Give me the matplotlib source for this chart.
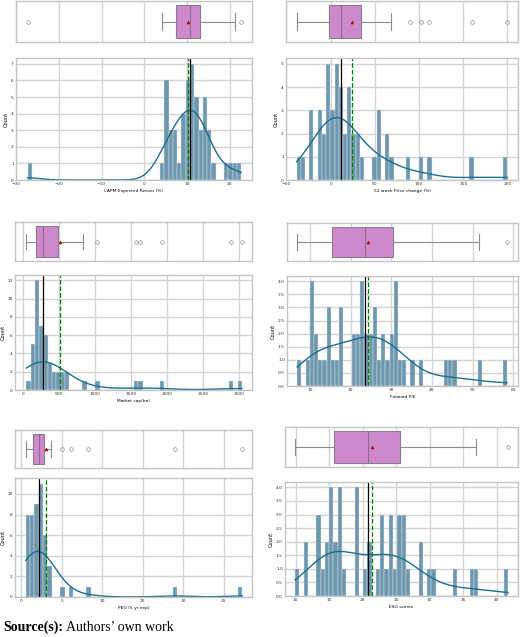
import numpy as np
import matplotlib
matplotlib.use("Agg")
import matplotlib.pyplot as plt
from matplotlib.ticker import MultipleLocator
import seaborn as sns

capm_return = [
    -27.3,
    4.2,
    5.0, 5.1, 5.2, 5.3, 5.4, 5.5,
    6.0, 6.2, 6.4,
    7.0, 7.2, 7.4,
    8.2,
    8.9, 9.1, 9.3, 9.5,
    9.75, 9.8, 9.9, 10.0, 10.1, 10.3,
    10.72, 10.8, 10.9, 11.0, 11.1, 11.2, 11.4,
    11.75, 11.8, 11.9, 12.0, 12.2,
    12.75, 12.9, 13.1,
    13.75, 13.8, 13.9, 14.0, 14.2,
    14.75, 14.9, 15.1,
    15.8,
    19.2, 20.2, 21.2, 22.7,
]

price_change_52w = [
    -38.5, -31.0,
    -23.0, -21.5, -20.0,
    -13.5, -12.0, -10.5,
    -8.5, -6.5,
    -4.5, -3.5, -2.5, -1.5, -0.8,
    0.5, 2.0, 3.5,
    5.0, 6.0, 7.0, 8.0, 9.0,
    10.0, 11.0, 12.0, 13.0,
    15.0, 17.0,
    19.5, 20.5, 21.5, 22.5,
    25.0, 27.0,
    29.5, 31.5,
    35.0,
    49.5,
    53.0, 54.5, 56.0,
    63.0, 65.0,
    68.4,
    89.5, 102.0, 111.0, 160.0, 200.0,
]

market_cap_bn = [
    45,
    115, 125, 135, 145, 155,
    166, 168, 170, 172, 175, 178, 182, 190, 200, 208, 215, 222,
    230, 240, 250, 260, 270, 278, 282,
    290, 300, 310, 320, 330, 340,
    360, 375, 390,
    445, 462,
    480, 510,
    540, 570,
    600, 630,
    835, 1030, 1570, 1630, 1930, 2890, 3040,
]

forward_pe = [
    6.8, 9.4,
    10.1, 10.3, 10.5, 10.7,
    11.3, 11.6,
    12.5, 13.5,
    14.3, 14.6, 14.9,
    15.6, 16.6,
    17.4, 17.7, 18.0,
    20.6, 21.0,
    21.6, 22.0,
    22.5, 22.8, 23.0, 23.2,
    23.6, 24.0,
    24.7, 25.1,
    25.7, 26.0, 26.3,
    27.0,
    27.8, 28.2,
    29.0,
    29.9, 30.3,
    30.8, 31.0, 31.2, 31.4,
    32.1, 33.2, 35.2, 37.3,
    43.5, 44.5, 45.6,
    51.7, 58.5,
]

peg_5yr = [
    0.58, 0.65, 0.72, 0.80, 0.88, 0.95, 1.00, 1.06,
    1.15, 1.22, 1.30, 1.37, 1.44, 1.50, 1.56, 1.62,
    1.68, 1.74, 1.80, 1.86, 1.92, 1.98, 2.04, 2.10, 2.15,
    2.20, 2.25, 2.30, 2.35, 2.40, 2.45, 2.50, 2.55, 2.60, 2.65, 2.70,
    2.76, 2.85, 2.95, 3.05, 3.12, 3.20,
    3.35, 3.55, 3.75,
    5.1, 6.2, 8.3, 19.0, 27.3,
]

esg_scores = [
    9.9,
    11.4, 11.6,
    13.2, 13.4, 13.6,
    14.0,
    14.5, 14.8,
    15.1, 15.25, 15.4, 15.55,
    15.8, 16.1,
    16.35, 16.5, 16.65, 16.8,
    17.2,
    18.9, 19.05, 19.2, 19.35,
    20.5,
    20.8, 21.1,
    22.3,
    22.7, 22.9, 23.1,
    23.6,
    24.0, 24.2, 24.4,
    24.8,
    25.3, 25.5, 25.7,
    25.9, 26.1, 26.3,
    26.7,
    28.5, 28.8,
    29.9, 30.5, 33.7, 36.3, 36.9,
    41.7,
]

x_labels = ["CAPM Expected Return (%)", "52 week Price change (%)",
            "Market cap(bn)", "Forward P/E", "PEG (5 yr exp)", "ESG scores"]
series = [capm_return, price_change_52w, market_cap_bn,
          forward_pe, peg_5yr, esg_scores]

# axis settings per panel
y_steps = [1, 1, 2, 0.5, 2, 0.5]
x_limits = [(-30, 25.2), (-50.5, 212), (-112, 3180),
            (4.3, 61.2), (-0.75, 28.5), (8.4, 43.2)]

W, H = 520, 637

# pixel boxes (x0, y0, x1, y1) for the box strip and the histogram
box_rects = [(16, 1, 252, 42), (286, 1, 518, 42),
             (15, 222, 252, 261), (287, 223, 518, 261),
             (15, 430, 252, 468), (285, 427, 518, 467)]
hist_rects = [(16, 58, 252, 180), (286, 58, 518, 180),
              (15, 275, 252, 390), (287, 276, 518, 386),
              (15, 478, 252, 597), (285, 482, 518, 596)]

BAR_COLOR = "#6f97ae"
KDE_COLOR = "#1c6f8f"
BOX_COLOR = "#cc8acc"
GREY = "#8c8c8c"

plt.rcParams.update({
    "font.family": "DejaVu Sans",
    "axes.edgecolor": "#c4c4c4",
    "axes.linewidth": 1.0,
    "grid.color": "#d4d4d4",
    "grid.linewidth": 1.0,
    "xtick.color": "#333333",
    "ytick.color": "#333333",
})


def px_axes(fig, rect, **kw):
    x0, y0, x1, y1 = rect
    return fig.add_axes([x0 / W, 1 - y1 / H, (x1 - x0) / W, (y1 - y0) / H], **kw)


fig = plt.figure(figsize=(W / 100, H / 100), dpi=100)

for vals, label, step, xlim, brect, hrect in zip(series, x_labels, y_steps, x_limits,
                                                 box_rects, hist_rects):
    vals = np.asarray(vals, dtype=float)
    ax_hist = px_axes(fig, hrect)
    ax_box = px_axes(fig, brect, sharex=ax_hist)

    # histogram + kde
    sns.histplot(x=vals, bins=50, kde=True, ax=ax_hist, color=KDE_COLOR,
                 kde_kws={"cut": 0}, line_kws={"linewidth": 1.0})
    for p in ax_hist.patches:
        p.set_facecolor(BAR_COLOR)
        p.set_alpha(1)
        p.set_edgecolor("#dce5eb")
        p.set_linewidth(0.3)
    ax_hist.axvline(np.median(vals), color="black", linewidth=0.9)
    ax_hist.axvline(np.mean(vals), color="green", linestyle="--", linewidth=0.9)

    ax_hist.set_xlim(*xlim)
    ax_hist.yaxis.set_major_locator(MultipleLocator(step))
    ax_hist.grid(True)
    ax_hist.set_axisbelow(True)
    ax_hist.tick_params(labelsize=3.2, length=0, pad=1.5)
    ax_hist.set_xlabel(label, fontsize=3.2, labelpad=2)
    ax_hist.set_ylabel("Count", fontsize=3.7, labelpad=1.5)

    # box plot strip
    ax_box.boxplot(vals, orientation="horizontal", widths=0.8, patch_artist=True,
                   showmeans=True,
                   boxprops=dict(facecolor=BOX_COLOR, edgecolor="#8a7a8a", linewidth=0.8),
                   medianprops=dict(color="#8a6f8a", linewidth=0.8),
                   whiskerprops=dict(color=GREY, linewidth=0.8),
                   capprops=dict(color=GREY, linewidth=0.8),
                   flierprops=dict(marker="o", markersize=2.6, markerfacecolor="none",
                                   markeredgecolor="#777777", markeredgewidth=0.4),
                   meanprops=dict(marker="^", markersize=2.2, markerfacecolor="#d00000",
                                  markeredgecolor="#900000", markeredgewidth=0.3))
    ax_box.set_ylim(0.5, 1.5)
    ax_box.set_yticks([])
    ax_box.grid(True, axis="x")
    ax_box.grid(False, axis="y")
    ax_box.set_axisbelow(True)
    ax_box.tick_params(labelbottom=False, length=0)

# source line
t1 = fig.text(3 / W, 1 - 631 / H, "Source(s):", fontfamily="Liberation Serif",
              fontweight="bold", fontsize=10, va="baseline")
renderer = fig.canvas.get_renderer()
bb = t1.get_window_extent(renderer)
fig.text(bb.x1 / W + 3 / W, 1 - 631 / H, "Authors\u2019 own work",
         fontfamily="Liberation Serif", fontsize=10, va="baseline")

fig.savefig("out.png", dpi=100)
